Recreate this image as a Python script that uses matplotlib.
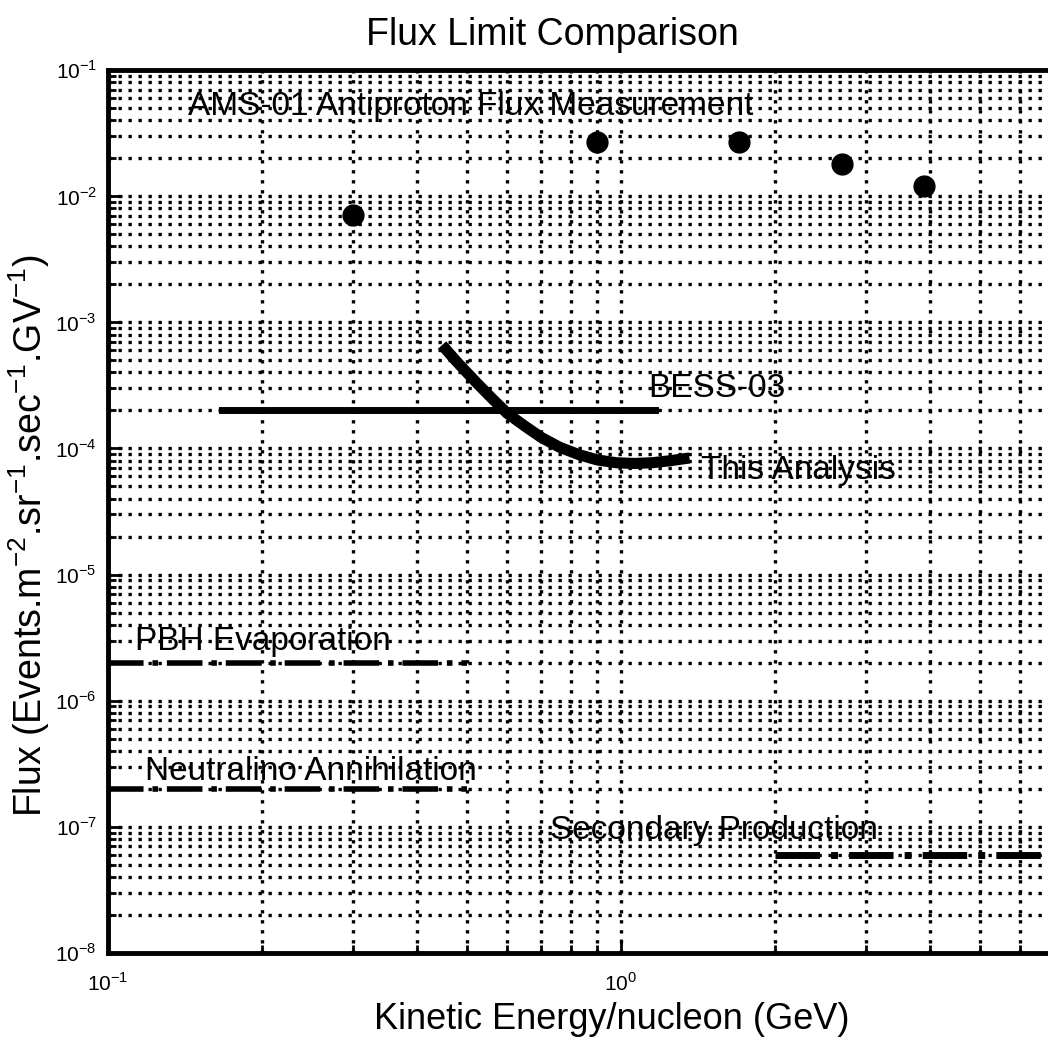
import numpy as np
import matplotlib
matplotlib.use("Agg")
import matplotlib.pyplot as plt

plt.rcParams['font.family'] = ['Liberation Sans', 'DejaVu Sans']
plt.rcParams['mathtext.fontset'] = 'custom'
plt.rcParams['mathtext.rm'] = 'Liberation Sans'

# AMS-01 antiproton flux points
ams_energy = [0.3, 0.9, 1.7, 2.7, 3.9]
ams_flux = [7.1e-3, 2.7e-2, 2.7e-2, 1.8e-2, 1.2e-2]

# BESS-03 limit
bess_energy = [0.167, 1.165]
bess_flux = [2.0e-4, 2.0e-4]

# this analysis
this_energy = [0.448, 0.48, 0.52, 0.56, 0.60, 0.65, 0.70, 0.76, 0.83, 0.90, 0.98, 1.06, 1.15, 1.25, 1.36]
this_flux = [6.6e-4, 4.8e-4, 3.4e-4, 2.5e-4, 1.9e-4, 1.5e-4, 1.22e-4, 1.02e-4, 8.9e-5, 8.1e-5, 7.7e-5, 7.6e-5, 7.7e-5, 8.0e-5, 8.4e-5]

# model predictions
pbh_energy = [0.1, 0.5]
pbh_flux = [2.0e-6, 2.0e-6]
neut_energy = [0.1, 0.5]
neut_flux = [2.0e-7, 2.0e-7]
sec_energy = [2.0, 10.0]
sec_flux = [6.0e-8, 6.0e-8]

fig = plt.figure(figsize=(10.48, 10.40), dpi=100)
ax = fig.add_axes([108 / 1048, 87 / 1040, 940 / 1048, 883 / 1040])

ax.set_xscale('log')
ax.set_yscale('log')
ax.set_xlim(0.1, 6.8)
ax.set_ylim(1e-8, 1e-1)

grid_kw = dict(color='black', linestyle=(0, (1, 2.0)), linewidth=2.4)
ax.grid(True, which='major', **grid_kw)
ax.grid(True, which='minor', **grid_kw)
ax.set_axisbelow(True)

ax.plot(ams_energy, ams_flux, 'o', color='black', markersize=15, zorder=5)
ax.plot(bess_energy, bess_flux, '-', color='black', linewidth=5, zorder=4)
ax.plot(this_energy, this_flux, '-', color='black', linewidth=8,
        solid_capstyle='butt', solid_joinstyle='round', zorder=4)
ax.plot(pbh_energy, pbh_flux, '-.', color='black', linewidth=4, zorder=4)
ax.plot(neut_energy, neut_flux, '-.', color='black', linewidth=4, zorder=4)
ax.plot(sec_energy, sec_flux, '-.', color='black', linewidth=5, zorder=4)

txt = dict(fontsize=24, color='black', va='center', ha='left', zorder=6)
ax.text(0.143, 0.051, 'AMS-01 Antiproton Flux Measurement', **txt)
ax.text(1.13, 3.0e-4, 'BESS-03', **txt)
ax.text(1.43, 6.7e-5, 'This Analysis', **txt)
ax.text(0.113, 2.96e-6, 'PBH Evaporation', **txt)
ax.text(0.118, 2.76e-7, 'Neutralino Annihilation', **txt)
ax.text(0.727, 9.4e-8, 'Secondary Production', **txt)

ax.set_xticks([0.1, 1.0])
ax.set_xticklabels([r'$10^{-1}$', r'$10^{0}$'])
ax.set_yticks([1e-8, 1e-7, 1e-6, 1e-5, 1e-4, 1e-3, 1e-2, 1e-1])
ax.set_yticklabels([r'$10^{-8}$', r'$10^{-7}$', r'$10^{-6}$', r'$10^{-5}$',
                    r'$10^{-4}$', r'$10^{-3}$', r'$10^{-2}$', r'$10^{-1}$'])
ax.tick_params(which='major', direction='in', length=10, width=2,
               labelsize=15, pad=8)
ax.tick_params(which='minor', direction='in', length=6, width=2)
ax.tick_params(axis='x', pad=14)

for side in ['left', 'bottom', 'top']:
    ax.spines[side].set_linewidth(3.5)
ax.spines['right'].set_visible(False)

title = ax.set_title('Flux Limit Comparison', fontsize=27, pad=18)
title.set_x(0.473)
ax.set_xlabel('Kinetic Energy/nucleon (GeV)', fontsize=26)
ax.xaxis.set_label_coords(0.536, -0.056)
ax.set_ylabel(r'Flux (Events.m$^{-2}$.sr$^{-1}$.sec$^{-1}$.GV$^{-1}$)',
              fontsize=27)
ax.yaxis.set_label_coords(-0.06, 0.473)

fig.savefig('out.png', dpi=100)
